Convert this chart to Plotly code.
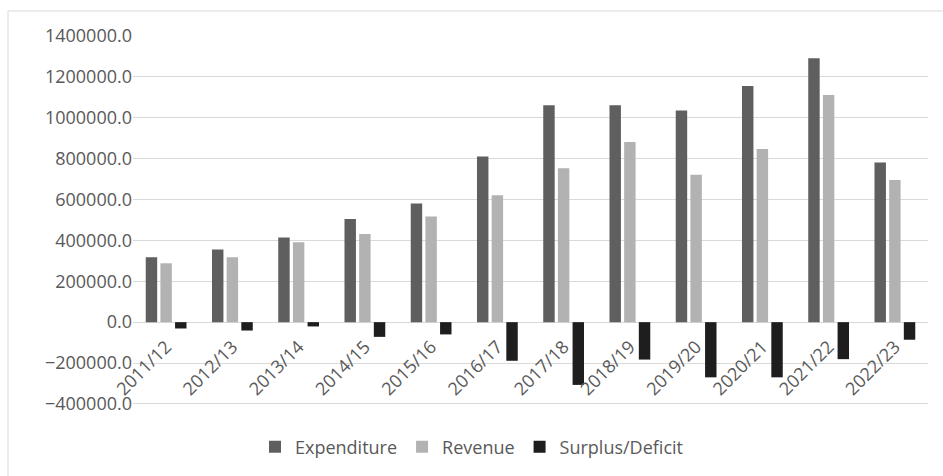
import plotly.graph_objects as go

years = ["2011/12", "2012/13", "2013/14", "2014/15", "2015/16", "2016/17",
         "2017/18", "2018/19", "2019/20", "2020/21", "2021/22", "2022/23"]
expenditure = [317000, 355000, 414000, 505000, 580000, 811000,
               1061000, 1061000, 1036000, 1155000, 1291000, 781000]
revenue = [288000, 317000, 391000, 431000, 517000, 621000,
           753000, 881000, 721000, 847000, 1111000, 696000]
surplus = [-31000, -41000, -21000, -72000, -60000, -189000,
           -307000, -183000, -270000, -270000, -181000, -86000]
ytick_vals = [-400000, -200000, 0, 200000, 400000, 600000,
              800000, 1000000, 1200000, 1400000]

W, H = 943, 476
L, R, T, B = 133, 15, 36, 68
FONT = "Open Sans"
GREY = "#595959"

fig = go.Figure()
fig.add_trace(go.Bar(x=years, y=expenditure, name="Expenditure",
                     marker=dict(color="#5f5f5f", line=dict(width=0))))
fig.add_trace(go.Bar(x=years, y=revenue, name="Revenue",
                     marker=dict(color="#b2b2b2", line=dict(width=0))))
fig.add_trace(go.Bar(x=years, y=surplus, name="Surplus/Deficit",
                     marker=dict(color="#1e1e1e", line=dict(width=0))))

# small pad below -400000 so that gridline is drawn inside the plot area
ymin, ymax = -420000, 1400000
zero_pos = (0 - ymin) / (ymax - ymin)

# chart border: only left and top edges fall inside the picture
pw, ph = W - L - R, H - T - B
bx0, bx1 = (8 - L) / pw, (W + 5 - L) / pw
by0, by1 = 1 - (H + 5 - T) / ph, 1 - (11 - T) / ph

fig.update_layout(
    width=W, height=H,
    margin=dict(l=L, r=R, t=T, b=B, autoexpand=False),
    paper_bgcolor="white", plot_bgcolor="white",
    font=dict(family=FONT, size=18, color=GREY),
    barmode="group", bargap=0.336, bargroupgap=0.22,
    showlegend=True,
    legend=dict(orientation="h", xref="container", yref="container",
                x=0.5, xanchor="center", y=0.061, yanchor="middle",
                font=dict(family=FONT, size=18, color=GREY),
                itemwidth=30, traceorder="normal"),
    xaxis=dict(anchor="free", position=zero_pos, tickangle=-45,
               showline=False, ticks="outside", ticklen=6,
               tickcolor="rgba(0,0,0,0)", showgrid=False, automargin=False,
               tickfont=dict(family=FONT, size=18, color=GREY)),
    yaxis=dict(range=[ymin, ymax], tickvals=ytick_vals, tickformat=".1f",
               showgrid=True, gridcolor="#d9d9d9", gridwidth=1,
               zeroline=True, zerolinecolor="#d9d9d9", zerolinewidth=1,
               showline=False, ticks="", ticksuffix="    ", automargin=False,
               tickfont=dict(family=FONT, size=18, color=GREY)),
    shapes=[dict(type="rect", xref="paper", yref="paper",
                 x0=bx0, x1=bx1, y0=by0, y1=by1,
                 line=dict(color="#d9d9d9", width=1), layer="below")],
)

# drop the browser's default body margin so the chart sits at the page corner
fig.write_html("out.html", config={"displayModeBar": False},
               post_script="document.body.style.margin='0';")
